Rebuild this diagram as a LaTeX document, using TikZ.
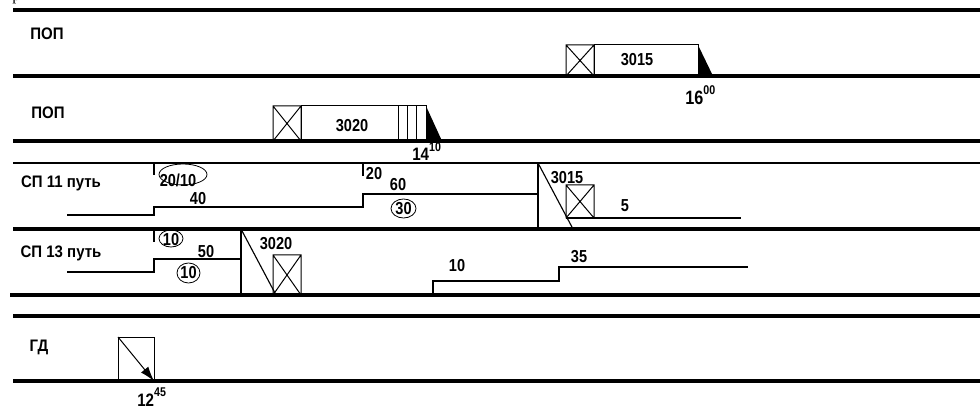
\documentclass[tikz,border=0pt]{standalone}
\usepackage{fontspec}
\usetikzlibrary{arrows.meta}
\newfontfamily\lblfont{Liberation Sans}[FakeStretch=0.84]
\newfontfamily\labfont{Liberation Sans}[FakeStretch=0.9]
\newfontfamily\serfont{Liberation Serif}
\newcommand\supr[1]{\raisebox{0.55em}{\fontsize{9.5}{10}\selectfont #1}}
\begin{document}
\begin{tikzpicture}[x=0.75pt,y=-0.75pt,
  track/.style={line width=2.3pt},
  thinline/.style={line width=0.85pt},
  boxline/.style={line width=0.75pt},
  lbl/.style={font=\labfont\bfseries\fontsize{12.5}{13}\selectfont, inner sep=0pt},
  num/.style={font=\lblfont\bfseries\fontsize{13}{14}\selectfont, inner sep=0pt},
  bignum/.style={font=\lblfont\bfseries\fontsize{14.5}{15}\selectfont, inner sep=0pt, anchor=base west},
  ring/.style={line width=0.6pt}]
\useasboundingbox (0,0) rectangle (980,409);

% fragment of a letter cut by the top edge
\node[font=\serfont\fontsize{12}{12}\selectfont, inner sep=0pt, anchor=base west] (frag) at (12,0.5) {р};

% track lines
\draw[track] (13,10) -- (980,10);
\draw[track] (13,76) -- (980,76);
\draw[track] (13,141) -- (980,141);
\draw[thinline] (13,163) -- (980,163);
\draw[track] (13,229) -- (980,229);
\draw[track] (10,295) -- (980,295);
\draw[track] (13,316) -- (980,316);
\draw[track] (13,381) -- (980,381);

% labels
\node[lbl] (pop1) at (47,34) {ПОП};
\node[lbl] (pop2) at (48,113) {ПОП};
\node[lbl] (sp11) at (61,183) {СП 11 путь};
\node[lbl] (sp13) at (61,253) {СП 13 путь};
\node[lbl] (gd) at (39,347) {ГД};

% ---- track 1: train 3015
\draw[boxline] (566,45) rectangle (594,76) (566,45) -- (594,76) (566,76) -- (594,45);
\draw[boxline] (594,45) rectangle (698,76);
\fill (698,45) -- (698,76) -- (713,76) -- cycle;
\node[num] (t3015a) at (637,60) {3015};
\node[bignum] (t1600) at (685,105) {16\supr{00}};

% ---- track 2: train 3020
\draw[boxline] (273,106) rectangle (301,141) (273,106) -- (301,141) (273,141) -- (301,106);
\draw[boxline] (301,106) rectangle (426,141);
\draw[boxline] (398,106) -- (398,141) (407,106) -- (407,141) (416,106) -- (416,141);
\fill (426,106) -- (426,141) -- (442,141) -- cycle;
\node[num] (t3020a) at (352,126) {3020};
\node[bignum, font=\lblfont\bfseries\fontsize{13.5}{14}\selectfont] (t1410) at (412,161) {14\supr{10}};

% ---- track 3: SP 11
\draw[thinline] (67,215) -- (154,215) -- (154,207) -- (363,207) -- (363,194) -- (538,194);
\draw[thinline] (154,163) -- (154,175);
\draw[thinline] (363,163) -- (363,176);
\draw[thinline] (538,163) -- (538,229);
\draw[thinline] (538,163) -- (573,229);
\draw[boxline] (566,185) rectangle (594,218) (566,185) -- (594,218) (566,218) -- (594,185);
\draw[thinline] (566,218) -- (741,218);
\node[num] (s2010) at (178,180) {20/10};
\draw[ring] (183,174.5) ellipse [x radius=24, y radius=10.5];
\node[num] (s40) at (198,199) {40};
\node[num] (s20) at (374,174) {20};
\node[num] (s60) at (398,185) {60};
\node[num] (s30) at (403.5,208.5) {30};
\draw[ring] (403.5,208.5) ellipse [x radius=12.5, y radius=9.5];
\node[num] (s3015) at (567,178) {3015};
\node[num] (s5) at (625,206) {5};

% ---- track 4: SP 13
\draw[thinline] (67,272) -- (154,272) -- (154,259) -- (241,259);
\draw[thinline] (154,229) -- (154,242);
\draw[thinline] (241,229) -- (241,295);
\draw[thinline] (241,229) -- (276,295);
\draw[boxline] (273,255) rectangle (301,295) (273,255) -- (301,295) (273,295) -- (301,255);
\draw[thinline] (433,295) -- (433,281) -- (559,281) -- (559,267) -- (748,267);
\node[num] (u10a) at (171,240) {10};
\draw[ring] (171,238.5) ellipse [x radius=12, y radius=8.5];
\node[num] (u50) at (206,252) {50};
\node[num] (u10b) at (188.5,273) {10};
\draw[ring] (188.5,273) ellipse [x radius=11.5, y radius=10];
\node[num] (u3020) at (276,244) {3020};
\node[num] (u10c) at (457,266) {10};
\node[num] (u35) at (579,257) {35};

% ---- track 5: GD
\draw[boxline] (118,337) rectangle (154,381);
\coordinate (gstart) at (118,337);
\coordinate (gend) at (154,381);
\draw[boxline, -{Latex[length=11pt,width=7pt]}] (gstart) -- (gend);
\node[bignum, font=\lblfont\bfseries\fontsize{13.5}{14}\selectfont] (t1245) at (137,406.5) {12\supr{45}};
\end{tikzpicture}
\end{document}
